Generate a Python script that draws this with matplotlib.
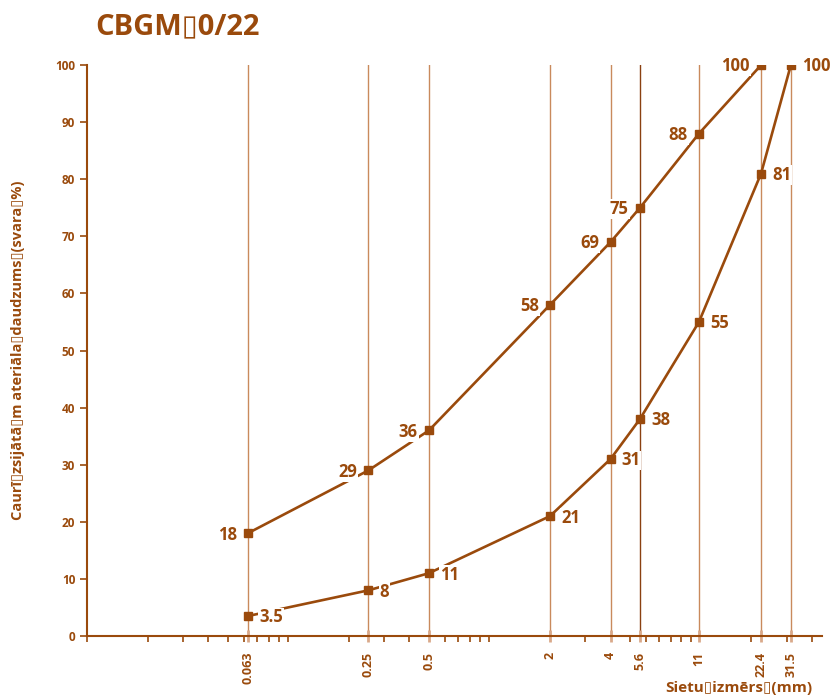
import numpy as np
import matplotlib
matplotlib.use("Agg")
import matplotlib.pyplot as plt
from matplotlib.ticker import LogLocator, NullFormatter

plt.rcParams['font.family'] = ['Open Sans', 'DejaVu Sans']

# données
sietu = [0.063, 0.25, 0.5, 2, 4, 5.6, 11, 22.4, 31.5]
sietu_labels = ['0.063', '0.25', '0.5', '2', '4', '5.6', '11', '22.4', '31.5']
augsa_x = [0.063, 0.25, 0.5, 2, 4, 5.6, 11, 22.4]
augsa_y = [18, 29, 36, 58, 69, 75, 88, 100]
apaksa_x = [0.063, 0.25, 0.5, 2, 4, 5.6, 11, 22.4, 31.5]
apaksa_y = [3.5, 8, 11, 21, 31, 38, 55, 81, 100]
apaksa_txt = ['3.5', '8', '11', '21', '31', '38', '55', '81', '100']

brun = '#9A4A0C'
grille = '#C98A5C'

fig = plt.figure(figsize=(8.33, 7), dpi=100)
ax = fig.add_axes([0.1045, 0.0914, 0.8823, 0.8156])
ax.set_xscale('log')
ax.set_xlim(0.01, 45)
ax.set_ylim(0, 100)

# lignes verticales des tamis
for s in sietu:
    c = '#8A4010' if s == 5.6 else grille
    ax.plot([s, s], [0, 100], color=c, lw=1, zorder=1)

ax.plot(augsa_x, augsa_y, color=brun, lw=1.9, marker='s', ms=6, zorder=3)
ax.plot(apaksa_x, apaksa_y, color=brun, lw=1.9, marker='s', ms=6, zorder=3)

box = dict(boxstyle='square,pad=0.05', fc='white', ec='none')
for x, y in zip(augsa_x, augsa_y):
    ax.annotate(str(y), (x, y), xytext=(-8, -1), textcoords='offset points',
                ha='right', va='center', fontsize=12, fontweight='bold',
                color=brun, bbox=box, zorder=4)
for x, y, t in zip(apaksa_x, apaksa_y, apaksa_txt):
    ax.annotate(t, (x, y), xytext=(8, -1), textcoords='offset points',
                ha='left', va='center', fontsize=12, fontweight='bold',
                color=brun, bbox=box, zorder=4)

for sp in ['top', 'right']:
    ax.spines[sp].set_visible(False)
for sp in ['left', 'bottom']:
    ax.spines[sp].set_color(brun)
    ax.spines[sp].set_linewidth(1.5)

ax.set_yticks(np.arange(0, 101, 10))
ax.tick_params(axis='y', colors=brun, labelsize=8.5, length=5, width=1.2)
for lb in ax.get_yticklabels():
    lb.set_fontweight('bold')

ax.xaxis.set_minor_locator(LogLocator(base=10, subs=np.arange(1, 10)))
ax.xaxis.set_minor_formatter(NullFormatter())
ax.tick_params(axis='x', which='minor', colors=brun, length=4, width=1.2, direction='out')
ax.set_xticks(sietu)
ax.set_xticklabels(sietu_labels, rotation=90, fontsize=9, fontweight='bold', color=brun)
ax.tick_params(axis='x', which='major', color='#D9A98A', length=9, width=2,
               direction='inout', pad=7)

ax.set_ylabel('Caurī\u25afzsijātā\u25afm ateriāla\u25afdaudzums\u25af(svara\u25af%)',
              fontsize=10.5, fontweight='bold', color=brun, labelpad=22)
fig.text(0.975, 0.017, 'Sietu\u25afizmērs\u25af(mm)', ha='right', va='center',
         fontsize=11, fontweight='bold', color=brun)
fig.text(0.114, 0.962, 'CBGM\u25af0/22', ha='left', va='center',
         fontsize=21, fontweight='bold', color=brun)

fig.savefig('out.png', dpi=100)
